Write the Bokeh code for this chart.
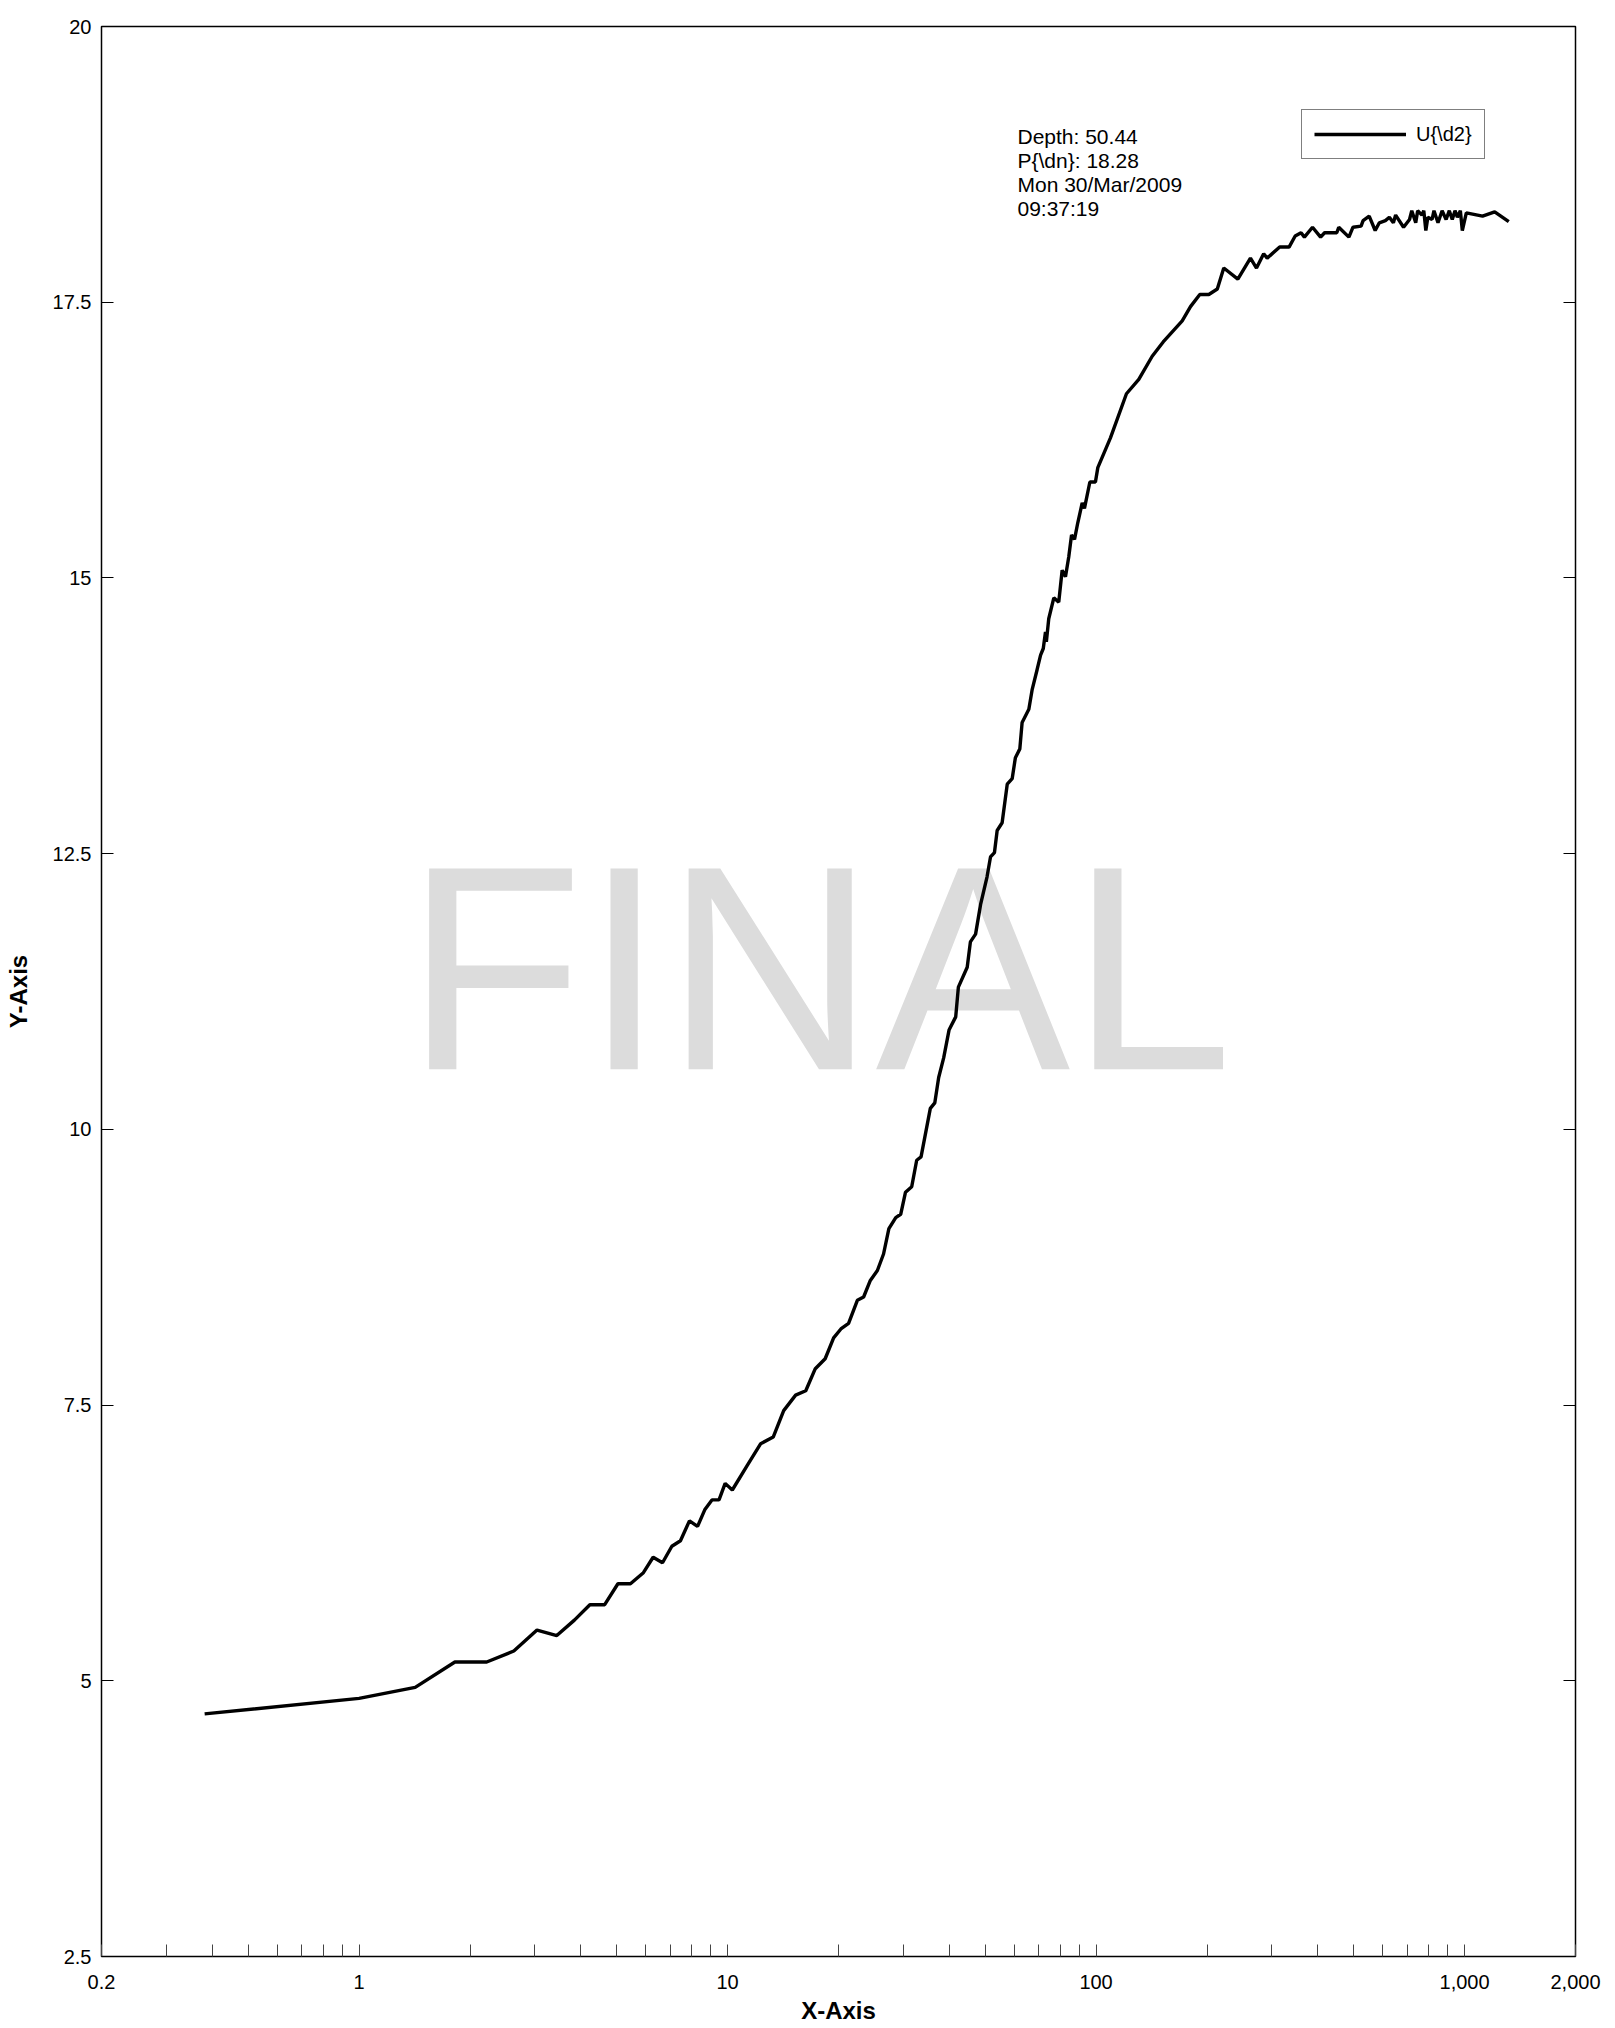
from bokeh.plotting import figure
from bokeh.models import (Range1d, FixedTicker, LinearAxis, Label, Legend, LegendItem)
from bokeh.embed import file_html
from bokeh.resources import INLINE

# ---------------- data ----------------
x_vals = [0.381, 1.0, 1.42, 1.82, 2.22, 2.63, 3.04, 3.44, 3.84, 4.23, 4.64, 5.04, 5.45, 5.91, 6.28,
          6.66, 7.06, 7.45, 7.88, 8.29, 8.67, 9.07, 9.48, 9.85, 10.3,
          11.3, 12.3, 13.3, 14.2, 15.3, 16.3, 17.3, 18.4, 19.4, 20.3, 21.3, 22.5, 23.4, 24.4, 25.5,
          26.5, 27.4, 28.6, 29.5, 30.4, 31.6, 32.6, 33.5, 35.5, 36.5,
          37.4, 38.6, 39.9, 41.6, 42.3, 44.7, 45.6, 47.1, 48.6, 50.6, 51.7, 53.0, 53.9, 55.6, 57.4,
          59.2, 60.4, 62.1, 63.0, 65.7, 67.1, 69.2, 70.7, 71.9, 72.9, 73.3, 74.4,
          76.8, 79.2, 80.9, 82.6, 84.3, 85.8, 87.4, 89.2, 91.7, 93.0, 96.2, 99.6, 101.1, 109.4, 120.9,
          130.6, 142.0, 152.1, 171.3, 180.4, 191.2, 202.3, 213.3, 222.1,
          242.5, 262.4, 272.5, 285.0, 291.3, 315.0, 334.0, 347.0, 360.0, 367.6, 386.7, 406.7, 417.0,
          450.0, 455.6, 485.4, 498.0, 523.8, 530.4, 551.0, 572.0, 587.0, 609.8, 625.0, 641.0, 650.0,
          683.0, 709.0, 719.0,
          737, 746, 766, 775, 785, 795, 816, 826, 847, 869, 891, 909, 926, 942, 956, 974, 986, 1011,
          1119, 1207, 1318]
y_vals = [4.70, 4.84, 4.94, 5.17, 5.17, 5.27, 5.46, 5.41, 5.55, 5.69, 5.69, 5.88, 5.88, 5.98, 6.12,
          6.07, 6.22, 6.27, 6.45, 6.40, 6.55, 6.64, 6.64, 6.79, 6.73,
          6.95, 7.15, 7.21, 7.45, 7.59, 7.63, 7.83, 7.92, 8.11, 8.19, 8.24, 8.45, 8.48, 8.63, 8.72,
          8.87, 9.10, 9.20, 9.23, 9.43, 9.48, 9.72, 9.75, 10.19, 10.24,
          10.47, 10.65, 10.90, 11.02, 11.29, 11.47, 11.70, 11.77, 12.04, 12.29, 12.47, 12.51, 12.71,
          12.78, 13.13, 13.18, 13.37, 13.45, 13.69, 13.81, 13.99, 14.17, 14.30, 14.36, 14.51, 14.42, 14.63,
          14.82, 14.78, 15.07, 15.01, 15.19, 15.39, 15.35, 15.50, 15.68, 15.63, 15.87, 15.87, 16.00,
          16.27, 16.67, 16.80, 17.01, 17.14, 17.33, 17.46, 17.57, 17.57, 17.62, 17.81,
          17.71, 17.90, 17.81, 17.94, 17.90, 18.00, 18.00, 18.10, 18.13, 18.09, 18.18, 18.09, 18.13,
          18.13, 18.18, 18.09, 18.18, 18.19, 18.24, 18.28, 18.15, 18.22, 18.24, 18.27, 18.22, 18.29,
          18.18, 18.25, 18.33,
          18.22, 18.33, 18.29, 18.33, 18.15, 18.27, 18.25, 18.33, 18.22, 18.33, 18.25, 18.33, 18.25,
          18.33, 18.27, 18.33, 18.15, 18.31, 18.28, 18.32, 18.23]
series_name = "U{\\d2}"

x_ticks = [0.3, 0.4, 0.5, 0.6, 0.7, 0.8, 0.9, 1, 2, 3, 4, 5, 6, 7, 8, 9, 10,
           20, 30, 40, 50, 60, 70, 80, 90, 100, 200, 300, 400, 500, 600, 700, 800, 900, 1000]
x_tick_labels = {0.2: "0.2", 1: "1", 10: "10", 100: "100", 1000: "1,000", 2000: "2,000"}
y_ticks = [2.5, 5, 7.5, 10, 12.5, 15, 17.5, 20]
y_tick_labels = ["2.5", "5", "7.5", "10", "12.5", "15", "17.5", "20"]

info_lines = ["Depth: 50.44", "P{\\dn}: 18.28", "Mon 30/Mar/2009", "09:37:19"]
watermark = "FINAL"

FONT = "Liberation Sans"

p = figure(width=1615, height=2028, x_axis_type="log",
           x_range=Range1d(0.2, 2000), y_range=Range1d(2.5, 20),
           output_backend="svg", toolbar_location=None,
           min_border_left=101, min_border_right=40, min_border_top=26, min_border_bottom=72)
p.xgrid.visible = False
p.ygrid.visible = False
p.outline_line_color = "black"
p.outline_line_width = 1.5
p.background_fill_color = "white"
p.border_fill_color = "white"

# watermark under the curve
p.add_layout(Label(x=17.7, y=11.46, text=watermark, text_align="center",
                   text_baseline="alphabetic", text_font=FONT, text_font_size="292px",
                   text_color="#dcdcdc", level="underlay"))

r = p.line(x_vals, y_vals, line_color="black", line_width=3.4)

# bottom axis
xa = p.xaxis[0]
all_x = sorted(set(x_ticks) | set(x_tick_labels.keys()))
xa.ticker = FixedTicker(ticks=all_x, minor_ticks=[])
xa.major_label_overrides = {t: x_tick_labels.get(t, "") for t in all_x}
xa.major_tick_in = 12
xa.major_tick_out = 0
xa.minor_tick_in = 0
xa.minor_tick_out = 0
xa.major_tick_line_color = "#444444"
xa.axis_line_color = None
xa.major_label_standoff = 18
xa.major_label_text_font = FONT
xa.major_label_text_font_size = "20px"
xa.major_label_text_color = "black"
xa.axis_label = "X-Axis"
xa.axis_label_standoff = 5
xa.axis_label_text_font = FONT
xa.axis_label_text_font_size = "24px"
xa.axis_label_text_font_style = "bold"
xa.axis_label_text_color = "black"

# left axis
ya = p.yaxis[0]
ya.ticker = FixedTicker(ticks=y_ticks, minor_ticks=[])
ya.major_label_overrides = dict(zip(y_ticks, y_tick_labels))
ya.major_tick_in = 12
ya.major_tick_out = 0
ya.minor_tick_in = 0
ya.minor_tick_out = 0
ya.major_tick_line_color = "black"
ya.axis_line_color = None
ya.major_label_standoff = 10
ya.major_label_text_font = FONT
ya.major_label_text_font_size = "20px"
ya.major_label_text_color = "black"
ya.axis_label = "Y-Axis"
ya.axis_label_standoff = 18
ya.axis_label_text_font = FONT
ya.axis_label_text_font_size = "24px"
ya.axis_label_text_font_style = "bold"
ya.axis_label_text_color = "black"

# right axis: inward ticks only
ra = LinearAxis(ticker=FixedTicker(ticks=y_ticks, minor_ticks=[]))
ra.major_label_overrides = {t: "" for t in y_ticks}
ra.major_tick_in = 12
ra.major_tick_out = 0
ra.minor_tick_in = 0
ra.minor_tick_out = 0
ra.major_tick_line_color = "black"
ra.axis_line_color = None
ra.major_label_standoff = 0
p.add_layout(ra, "right")

# info text block
for i, line in enumerate(info_lines):
    p.add_layout(Label(x=61.2, y=19.11, y_offset=-24 * i, text=line, text_align="left",
                       text_baseline="top", text_font=FONT, text_font_size="21px",
                       text_color="black"))

legend = Legend(items=[LegendItem(label=series_name, renderers=[r])],
                location=(1200, 1797), orientation="vertical",
                padding=12, margin=0, spacing=0, label_standoff=10,
                glyph_width=92, glyph_height=24, label_height=24,
                border_line_color="black", border_line_width=1,
                background_fill_color="white", background_fill_alpha=1.0,
                label_text_font=FONT, label_text_font_size="20px", label_text_color="black")
p.add_layout(legend, "center")

open("out.html", "w").write(file_html(p, INLINE))
